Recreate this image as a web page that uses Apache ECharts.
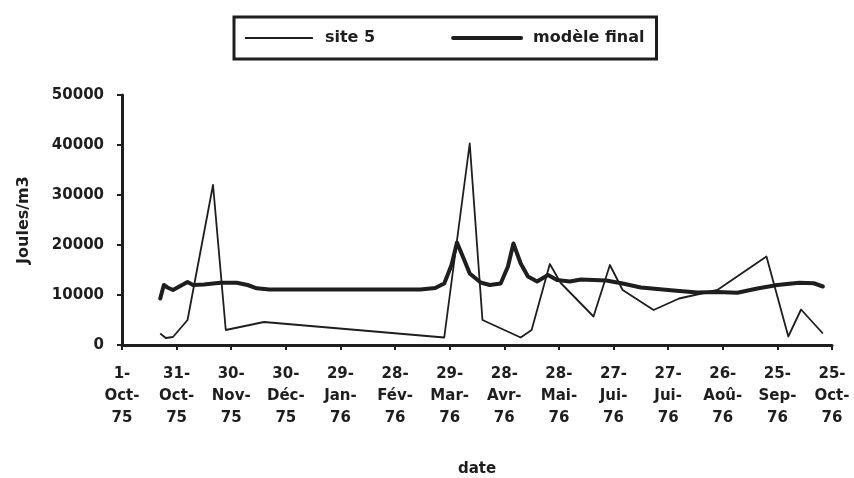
<!DOCTYPE html>
<html>
<head>
<meta charset="utf-8">
<script src="https://cdn.jsdelivr.net/npm/echarts@6/dist/echarts.min.js"></script>
<style>html,body{margin:0;padding:0;background:#fff;}#c{width:854px;height:478px;}</style>
</head>
<body>
<div id="c"></div>
<script>
const startDate = '1975-10-01';
const tickLabels = ['1-\nOct-\n75','31-\nOct-\n75','30-\nNov-\n75','30-\nDéc-\n75','29-\nJan-\n76','28-\nFév-\n76','29-\nMar-\n76','28-\nAvr-\n76','28-\nMai-\n76','27-\nJui-\n76','27-\nJui-\n76','26-\nAoû-\n76','25-\nSep-\n76','25-\nOct-\n76'];

const siteDates = ['1975-10-22','1975-10-25','1975-10-29','1975-11-06','1975-11-20','1975-11-27','1975-12-18','1976-03-26','1976-04-09','1976-04-16','1976-05-07','1976-05-13','1976-05-23','1976-05-29','1976-06-16','1976-06-25','1976-07-02','1976-07-19','1976-08-02','1976-08-23','1976-09-19','1976-10-01','1976-10-08','1976-10-20'];
const siteValues = [2300,1400,1600,5000,32000,3000,4600,1500,40300,5000,1500,3000,16200,12400,5700,16000,11000,7000,9300,11000,17700,1700,7100,2300];

const modelDates = ['1975-10-22','1975-10-24','1975-10-26','1975-10-29','1975-11-03','1975-11-06','1975-11-09','1975-11-15','1975-11-24','1975-12-03','1975-12-09','1975-12-14','1975-12-21','1976-03-13','1976-03-21','1976-03-26','1976-03-30','1976-04-02','1976-04-06','1976-04-09','1976-04-15','1976-04-20','1976-04-26','1976-04-30','1976-05-03','1976-05-07','1976-05-11','1976-05-16','1976-05-22','1976-05-27','1976-06-03','1976-06-09','1976-06-23','1976-07-02','1976-07-12','1976-07-30','1976-08-12','1976-08-23','1976-09-03','1976-09-14','1976-09-25','1976-10-07','1976-10-15','1976-10-20'];
const modelValues = [9300,12000,11500,11000,12000,12600,12000,12100,12450,12450,12000,11340,11100,11100,11400,12300,16000,20500,17000,14300,12500,12000,12300,15700,20300,16300,13700,12700,14000,13000,12700,13100,12900,12300,11500,10900,10500,10600,10450,11300,12000,12450,12350,11700];

const DAY = 86400000;
function dayOffset(s) { return (Date.parse(s) - Date.parse(startDate)) / DAY; }
function pairs(dates, vals) { return dates.map((d, i) => [dayOffset(d), vals[i]]); }

const FONT = 'DejaVu Sans';
const INK = '#1e1e1e';
const THIN = 1.8, THICK = 4;
const chart = echarts.init(document.getElementById('c'), null, {renderer: 'canvas'});
chart.setOption({
  backgroundColor: '#ffffff',
  animation: false,
  textStyle: {fontFamily: FONT},
  legend: {
    left: 234, top: 17, width: 425,
    padding: [13, 12, 13, 10],
    borderColor: INK, borderWidth: 3, borderRadius: 0,
    itemWidth: 68, itemHeight: 10, itemGap: 76,
    itemStyle: {opacity: 0},
    textStyle: {fontFamily: FONT, fontWeight: 'bold', fontSize: 16, color: INK, padding: [0, 0, 0, 7]},
    data: [
      {name: 'site 5', lineStyle: {width: THIN, color: INK}},
      {name: 'modèle final', lineStyle: {width: THICK, color: INK}}
    ]
  },
  grid: {left: 122, right: 22, top: 95, bottom: 133, containLabel: false, outerBoundsMode: 'none'},
  xAxis: {
    type: 'value', min: 0, max: 390, interval: 30,
    name: 'date', nameLocation: 'middle', nameGap: 117,
    nameTextStyle: {fontFamily: FONT, fontWeight: 'bold', fontSize: 15, color: INK},
    axisLine: {lineStyle: {color: INK, width: 3}},
    axisTick: {length: 5, lineStyle: {color: INK, width: 2}},
    splitLine: {show: false},
    axisLabel: {
      margin: 18, fontFamily: FONT, fontWeight: 'bold', fontSize: 15, color: INK, lineHeight: 22, align: 'center',
      formatter: v => tickLabels[Math.round(v / 30)] || ''
    }
  },
  yAxis: {
    type: 'value', min: 0, max: 50000, interval: 10000,
    name: 'Joules/m3', nameLocation: 'middle', nameGap: 90, nameRotate: 90,
    nameTextStyle: {fontFamily: FONT, fontWeight: 'bold', fontSize: 16, color: INK},
    axisLine: {show: true, lineStyle: {color: INK, width: 3}},
    axisTick: {show: true, length: 5, lineStyle: {color: INK, width: 2}},
    splitLine: {show: false},
    axisLabel: {margin: 18, fontFamily: FONT, fontWeight: 'bold', fontSize: 15, color: INK, formatter: v => String(v)}
  },
  series: [
    {
      name: 'site 5', type: 'line', data: pairs(siteDates, siteValues),
      symbol: 'none', showSymbol: false,
      lineStyle: {color: INK, width: THIN, join: 'round'},
      itemStyle: {color: INK}
    },
    {
      name: 'modèle final', type: 'line', data: pairs(modelDates, modelValues),
      symbol: 'none', showSymbol: false,
      lineStyle: {color: INK, width: THICK, join: 'round', cap: 'round'},
      itemStyle: {color: INK}
    }
  ]
});
</script>
</body>
</html>
